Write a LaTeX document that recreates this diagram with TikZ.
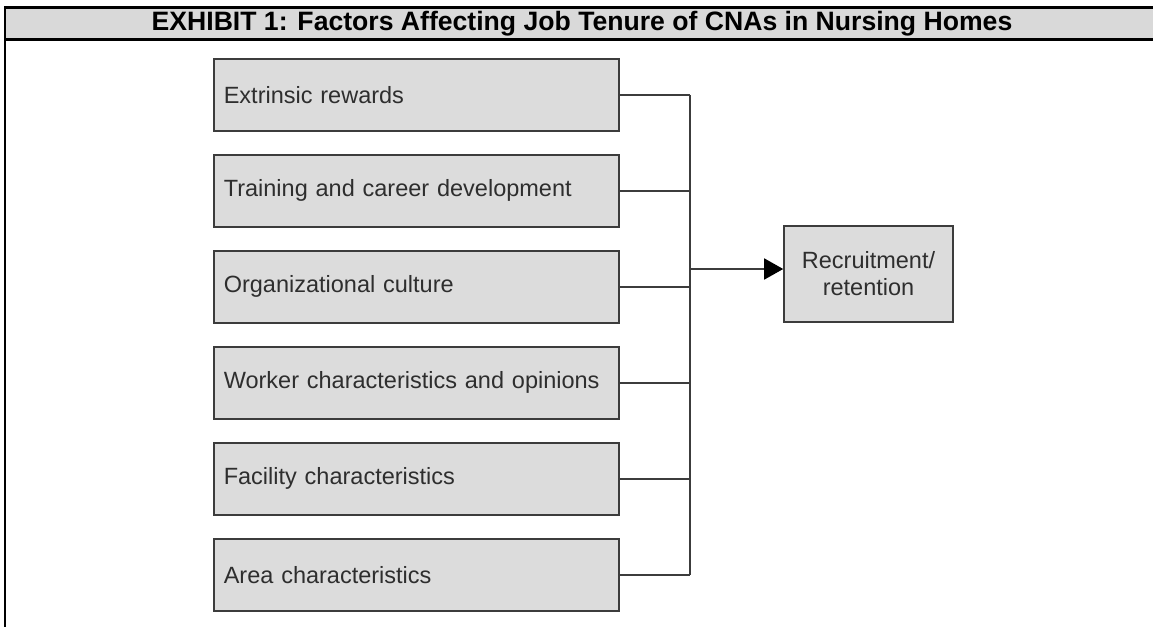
\documentclass[tikz,border=0pt]{standalone}
\usepackage{fontspec}
\setmainfont{Liberation Sans}
\usetikzlibrary{arrows.meta}
\definecolor{boxfill}{HTML}{DCDCDC}
\definecolor{boxline}{HTML}{3C3C3C}
\definecolor{boxtext}{HTML}{2E2E2E}
\definecolor{headfill}{HTML}{D9D9D9}
\begin{document}
\begin{tikzpicture}[x=1pt,y=-1pt,
  factor/.style={draw=boxline, fill=boxfill, line width=1.6pt,
    anchor=north west, minimum width=405pt, minimum height=72pt,
    inner xsep=10pt, inner ysep=0pt, text width=385pt, align=left,
    text=boxtext, font=\fontsize{23.5}{28}\selectfont},
  outcome/.style={draw=boxline, fill=boxfill, line width=1.6pt,
    minimum width=169pt, minimum height=96pt, inner sep=0pt,
    align=center, text=boxtext, font=\fontsize{23.5}{27}\selectfont},
  conn/.style={draw=boxline, line width=1.6pt},
  frame/.style={draw=black, line width=2.6pt}]
  \useasboundingbox (0,0) rectangle (1153,627);

  % title bar and frame
  \fill[headfill] (5,7.5) rectangle (1153,39.5);
  \draw[frame] (1153,7.5) -- (5,7.5) -- (5,627);
  \draw[frame] (5,39.5) -- (1153,39.5);
  \node[font=\bfseries\fontsize{26.6}{30}\selectfont] (title) at (582,23.5)
    {EXHIBIT 1: Factors Affecting Job Tenure of CNAs in Nursing Homes};

  % factor boxes
  \node[factor] (f1) at (213,58)  {Extrinsic rewards};
  \node[factor] (f2) at (213,154) {Training and career development};
  \node[factor] (f3) at (213,250) {Organizational culture};
  \node[factor] (f4) at (213,346) {Worker characteristics and opinions};
  \node[factor] (f5) at (213,442) {Facility characteristics};
  \node[factor] (f6) at (213,538) {Area characteristics};

  % outcome box
  \node[outcome] (rec) at (868.5,274) {Recruitment/\\retention};

  % collecting bus
  \coordinate (bus) at (690,0);
  \coordinate (tap) at (690,269);
  \foreach \f in {f1,f2,f3,f4,f5,f6}
    \draw[conn] (\f.east) -- (\f.east -| bus);
  \draw[conn] (f1.east -| bus) -- (f6.east -| bus);
  \draw[conn, -{Triangle[length=19pt,width=21pt,color=black]}]
    (tap) -- (rec.west |- tap);
\end{tikzpicture}
\end{document}
